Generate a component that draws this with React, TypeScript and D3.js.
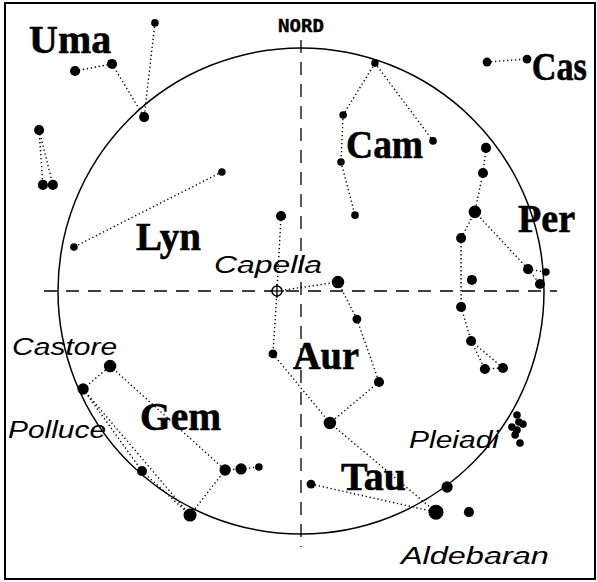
import * as d3 from "d3";
import React from "react";

// star positions in degrees from zenith (horizon = 90), mag drives dot size
const starIds = [
  "u1", "u2", "u3", "u4", "l1", "l2", "l3", "y1", "y2",
  "a1", "cap", "a2", "a3", "a4", "a5", "a6",
  "t1", "t2", "t3", "t4",
  "c1", "c2", "c3", "c4", "c5", "s1", "s2",
  "p1", "p2", "p3", "p4", "p5", "p6", "p7", "p8", "p9", "p10", "p11", "p12",
  "q1", "q2", "q3", "q4", "q5", "q6", "q7",
  "g1", "g2", "g3", "g4", "g5", "g6", "g7",
];
const starX = [
  -54.1, -70, -83.7, -58.1, -97, -95.6, -91.9, -29.3, -84.1,
  -7.4, -8.9, 13.7, 20.7, -10.4, 28.9, 10.7,
  50, 62.2, 54.1, 3.7,
  27.4, 15.6, 14.8, 20, 48.9, 68.9, 83.7,
  68.5, 67.4, 64.4, 59.3, 63.3, 84.1, 90.7, 88.5, 59.3, 63, 68.1, 74.8,
  80, 80.7, 78.1, 82.2, 80, 79.3, 81.1,
  -80.7, -70.7, -58.9, -41.1, -28.1, -22.2, -15.6,
];
const starY = [
  99.3, 84.1, 81.5, 64.4, 59.6, 39.3, 39.3, 44.1, 16.3,
  27.8, 0, 3.3, -10.4, -23.3, -33.7, -48.9,
  -81.9, -81.9, -72.6, -71.5,
  84.4, 65.2, 47.8, 28.1, 55.6, 84.8, 85.9,
  53, 43.7, 29.3, 19.6, 4.1, 8.1, 7, 2.6, -5.9, -18.5, -28.9, -28.5,
  -45.9, -48.5, -50.4, -49.3, -51.5, -53.3, -56.3,
  -36.3, -27.8, -66.7, -83, -66.3, -65.9, -65.2,
];
const starMag = [
  3, 2, 2, 2, 2, 2, 2, 3, 3,
  2, 1.5, 1, 2.5, 2.5, 2, 1,
  0, 2, 1.5, 2.5,
  3, 3, 3, 3, 3, 2.5, 2.5,
  2, 2, 1, 2, 2, 2, 3, 2, 2, 2, 2, 2,
  3, 3, 3, 3, 3, 3, 3,
  1.5, 1, 2, 0.8, 1.5, 1.5, 3,
];

const links: [string, string][] = [
  ["u3", "u2"], ["u2", "u4"], ["u1", "u4"], ["l1", "l2"], ["l1", "l3"],
  ["y1", "y2"],
  ["a1", "cap"], ["cap", "a2"], ["a2", "a3"], ["a3", "a5"], ["a5", "a6"],
  ["cap", "a4"], ["a4", "a6"], ["a6", "t1"], ["t4", "t1"],
  ["c1", "c2"], ["c2", "c3"], ["c3", "c4"], ["c1", "c5"], ["s1", "s2"],
  ["p1", "p2"], ["p2", "p3"], ["p3", "p4"], ["p4", "p9"], ["p3", "p6"],
  ["p6", "p7"], ["p6", "p8"], ["p9", "p10"], ["p10", "p11"], ["p10", "p12"],
  ["p11", "p12"],
  ["g1", "g2"], ["g2", "g5"], ["g1", "g3"], ["g1", "g4"], ["g3", "g4"],
  ["g4", "g5"], ["g5", "g6"], ["g6", "g7"],
];

const constellations = ["Uma", "Cas", "Cam", "Per", "Lyn", "Aur", "Gem", "Tau"];
const constX = [-100.7, 85.5, 16.7, 80.4, -61.1, -3, -59.6, 14.8];
const constY = [88.1, 78.1, 49.3, 21.9, 15.2, -28.9, -51.5, -73.7];

const starNames = ["Capella", "Castore", "Polluce", "Pleiadi", "Aldebaran"];
const nameX = [-32.2, -107, -108.5, 40, 37];
const nameY = [6.7, -23.7, -54.4, -58.1, -101.1];

// rendered widths, to match the stretched look of the original
const constWidth: Record<string, number> = {
  Uma: 82, Cas: 55, Cam: 77, Per: 57, Lyn: 65, Aur: 66, Gem: 81, Tau: 65,
};
const nameWidth: Record<string, number> = {
  Capella: 108, Castore: 105, Polluce: 98, Pleiadi: 90, Aldebaran: 148,
};

const W = 597;
const H = 582;

export default function App() {
  const cx = 301;
  const cy = 291;
  const R = 243;
  const x = d3.scaleLinear().domain([-90, 90]).range([cx - R, cx + R]);
  const y = d3.scaleLinear().domain([-90, 90]).range([cy + R, cy - R]);
  const r = d3.scaleLinear().domain([0, 3]).range([7.5, 3.8]);

  const stars = starIds.map((id, i) => ({
    id,
    x: starX[i],
    y: starY[i],
    mag: starMag[i],
  }));
  const byId = new Map(stars.map((s) => [s.id, s]));
  const line = d3
    .line<{ x: number; y: number }>()
    .x((d) => x(d.x))
    .y((d) => y(d.y));

  const cap = byId.get("cap")!;

  return (
    <svg
      width={W}
      height={H}
      style={{ position: "absolute", left: 0, top: 0, background: "#fff" }}
    >
      <rect x={5} y={3} width={590} height={576} fill="#fff" stroke="#000" strokeWidth={2} />
      <text
        x={x(0)}
        y={32}
        textAnchor="middle"
        fontFamily="DejaVu Sans Mono"
        fontWeight="bold"
        fontSize={18}
        textLength={46}
        lengthAdjust="spacingAndGlyphs"
        stroke="#000"
        strokeWidth={0.4}
      >
        NORD
      </text>
      <line
        x1={x(-95.2)}
        x2={x(94.8)}
        y1={y(0)}
        y2={y(0)}
        stroke="#000"
        strokeWidth={1.3}
        strokeDasharray="13,9"
      />
      <line
        x1={x(0)}
        x2={x(0)}
        y1={y(93)}
        y2={y(-94.8)}
        stroke="#000"
        strokeWidth={1.3}
        strokeDasharray="13,9"
      />
      <circle cx={x(0)} cy={y(0)} r={x(90) - x(0)} fill="none" stroke="#000" strokeWidth={1.5} />

      {links.map(([a, b], i) => (
        <path
          key={i}
          d={line([byId.get(a)!, byId.get(b)!]) || ""}
          fill="none"
          stroke="#000"
          strokeWidth={1.4}
          strokeDasharray="1.3,2.7"
        />
      ))}

      {stars
        .filter((s) => s.id !== "cap")
        .map((s) => (
          <circle key={s.id} cx={x(s.x)} cy={y(s.y)} r={r(s.mag)} fill="#000" />
        ))}

      <g transform={`translate(${x(cap.x)},${y(cap.y)})`}>
        <circle r={5} fill="#fff" stroke="#000" strokeWidth={1.5} />
        <line x1={-7} x2={7} stroke="#000" strokeWidth={1.3} />
        <line y1={-7} y2={7} stroke="#000" strokeWidth={1.3} />
      </g>

      {constellations.map((c, i) => (
        <text
          key={c}
          x={x(constX[i])}
          y={y(constY[i])}
          fontFamily="Liberation Serif"
          fontWeight="bold"
          fontSize={40}
          textLength={constWidth[c]}
          lengthAdjust="spacingAndGlyphs"
          stroke="#000"
          strokeWidth={0.6}
        >
          {c}
        </text>
      ))}
      {starNames.map((n, i) => (
        <text
          key={n}
          x={x(nameX[i])}
          y={y(nameY[i])}
          fontFamily="Liberation Sans"
          fontStyle="italic"
          fontSize={24.5}
          textLength={nameWidth[n]}
          lengthAdjust="spacingAndGlyphs"
        >
          {n}
        </text>
      ))}
    </svg>
  );
}
